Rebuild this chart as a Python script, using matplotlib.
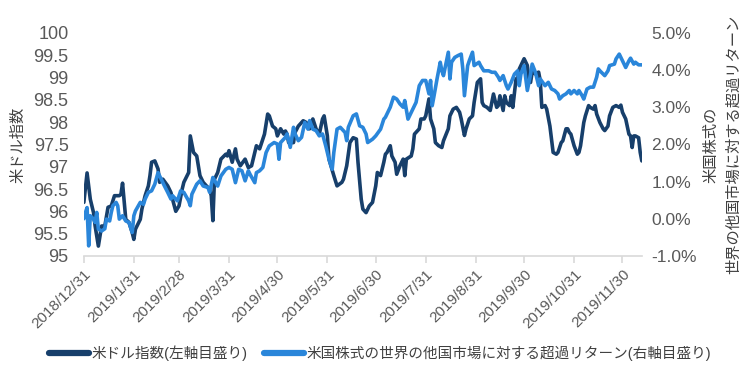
#!/usr/bin/env python3

import numpy as np
import pandas as pd
import matplotlib
matplotlib.use("Agg")
import matplotlib.pyplot as plt
import matplotlib.dates as mdates
from matplotlib.ticker import FixedLocator, FuncFormatter

plt.rcParams['font.family'] = ['Liberation Sans', 'Noto Sans CJK JP', 'DejaVu Sans']

# 米ドル指数 (left axis)
usd_dates = [
    "2018-12-31", "2019-01-02", "2019-01-04", "2019-01-06", "2019-01-07", "2019-01-09", "2019-01-11",
    "2019-01-13", "2019-01-15", "2019-01-17", "2019-01-19", "2019-01-22", "2019-01-23", "2019-01-24",
    "2019-01-26", "2019-01-28", "2019-01-30", "2019-01-31", "2019-02-01", "2019-02-04", "2019-02-05",
    "2019-02-07", "2019-02-09", "2019-02-10", "2019-02-11", "2019-02-13", "2019-02-15", "2019-02-16",
    "2019-02-18", "2019-02-21", "2019-02-23", "2019-02-24", "2019-02-26", "2019-02-28", "2019-03-02",
    "2019-03-03", "2019-03-06", "2019-03-07", "2019-03-09", "2019-03-11", "2019-03-13", "2019-03-15",
    "2019-03-17", "2019-03-19", "2019-03-20", "2019-03-21", "2019-03-22", "2019-03-24", "2019-03-26",
    "2019-03-29", "2019-03-30", "2019-03-31", "2019-04-02", "2019-04-04", "2019-04-05", "2019-04-07",
    "2019-04-10", "2019-04-12", "2019-04-14", "2019-04-17", "2019-04-19", "2019-04-22", "2019-04-24",
    "2019-04-25", "2019-04-27", "2019-04-29", "2019-04-30", "2019-05-02", "2019-05-04", "2019-05-05",
    "2019-05-06", "2019-05-07", "2019-05-10", "2019-05-11", "2019-05-13", "2019-05-16", "2019-05-18",
    "2019-05-20", "2019-05-22", "2019-05-24", "2019-05-26", "2019-05-28", "2019-05-29", "2019-05-31",
    "2019-06-01", "2019-06-04", "2019-06-06", "2019-06-09", "2019-06-10", "2019-06-12", "2019-06-14",
    "2019-06-16", "2019-06-18", "2019-06-19", "2019-06-21", "2019-06-22", "2019-06-24", "2019-06-26",
    "2019-06-28", "2019-06-30", "2019-07-01", "2019-07-03", "2019-07-05", "2019-07-06", "2019-07-07",
    "2019-07-09", "2019-07-10", "2019-07-12", "2019-07-13", "2019-07-15", "2019-07-17", "2019-07-18",
    "2019-07-19", "2019-07-22", "2019-07-23", "2019-07-24", "2019-07-27", "2019-07-28", "2019-07-30",
    "2019-07-31", "2019-08-02", "2019-08-03", "2019-08-05", "2019-08-06", "2019-08-08", "2019-08-10",
    "2019-08-11", "2019-08-14", "2019-08-15", "2019-08-17", "2019-08-19", "2019-08-21", "2019-08-22",
    "2019-08-24", "2019-08-25", "2019-08-27", "2019-08-29", "2019-08-30", "2019-09-01", "2019-09-03",
    "2019-09-04", "2019-09-05", "2019-09-07", "2019-09-09", "2019-09-10", "2019-09-11", "2019-09-13",
    "2019-09-14", "2019-09-15", "2019-09-17", "2019-09-18", "2019-09-19", "2019-09-21", "2019-09-22",
    "2019-09-23", "2019-09-25", "2019-09-26", "2019-09-27", "2019-09-29", "2019-09-30", "2019-10-02",
    "2019-10-03", "2019-10-04", "2019-10-05", "2019-10-07", "2019-10-09", "2019-10-10", "2019-10-11",
    "2019-10-13", "2019-10-14", "2019-10-16", "2019-10-17", "2019-10-18", "2019-10-20", "2019-10-21",
    "2019-10-23", "2019-10-24", "2019-10-26", "2019-10-27", "2019-10-28", "2019-10-29", "2019-10-31",
    "2019-11-02", "2019-11-03", "2019-11-04", "2019-11-06", "2019-11-07", "2019-11-09", "2019-11-10",
    "2019-11-12", "2019-11-13", "2019-11-14", "2019-11-16", "2019-11-18", "2019-11-19", "2019-11-21",
    "2019-11-22", "2019-11-24", "2019-11-26", "2019-11-28", "2019-11-29", "2019-11-30", "2019-12-02",
    "2019-12-04", "2019-12-05", "2019-12-06", "2019-12-07", "2019-12-08", "2019-12-10", "2019-12-11",
    "2019-12-12",
]
usd_values = [
    96.20, 96.86, 96.27, 95.97, 95.67, 95.22, 95.67,
    95.67, 96.09, 96.12, 96.35, 96.35, 96.38, 96.63,
    95.82, 95.75, 95.52, 95.37, 95.60, 95.82, 96.05,
    96.35, 96.57, 96.80, 97.10, 97.13, 96.95, 96.65,
    96.72, 96.57, 96.42, 96.27, 96.00, 96.12, 96.50,
    96.65, 96.87, 97.69, 97.32, 97.24, 96.80, 96.65,
    96.57, 96.50, 96.35, 95.79, 96.72, 96.87, 97.17,
    97.28, 97.24, 97.36, 97.10, 97.40, 97.17, 97.02,
    97.17, 96.98, 97.02, 97.47, 97.40, 97.73, 98.18,
    98.14, 97.91, 97.85, 97.69, 97.85, 97.73, 97.80,
    97.73, 97.54, 97.54, 97.77, 97.91, 98.03, 97.99,
    97.85, 98.07, 97.85, 97.73, 98.07, 98.14, 97.69,
    97.17, 96.80, 96.57, 96.65, 96.72, 97.02, 97.54,
    97.65, 97.62, 97.10, 96.27, 96.05, 95.97, 96.12,
    96.20, 96.57, 96.87, 96.80, 97.10, 97.28, 97.32,
    97.47, 97.24, 97.10, 96.83, 97.02, 97.17, 96.80,
    97.17, 97.24, 97.40, 97.73, 97.85, 98.07, 98.07,
    98.14, 98.52, 98.07, 97.85, 97.54, 97.47, 97.43,
    97.58, 97.85, 98.14, 98.29, 98.33, 98.22, 98.07,
    97.70, 97.85, 98.07, 98.14, 98.44, 98.89, 98.97,
    98.44, 98.37, 98.33, 98.26, 98.44, 98.63, 98.33,
    98.37, 98.59, 98.26, 98.59, 98.44, 98.37, 98.59,
    98.33, 98.97, 98.97, 99.19, 99.34, 99.42, 99.27,
    98.93, 98.89, 99.12, 99.08, 99.12, 98.93, 98.33,
    98.37, 98.29, 97.91, 97.62, 97.32, 97.28, 97.32,
    97.54, 97.58, 97.85, 97.85, 97.77, 97.73, 97.47,
    97.28, 97.32, 97.47, 97.99, 98.14, 98.37, 98.33,
    98.29, 98.37, 98.18, 97.99, 97.85, 97.81, 97.91,
    98.14, 98.33, 98.37, 98.33, 98.38, 98.22, 98.07,
    97.73, 97.69, 97.43, 97.69, 97.69, 97.65, 97.32,
    97.13,
]

# 米国株式の世界の他国市場に対する超過リターン, % (right axis)
excess_dates = [
    "2018-12-31", "2019-01-01", "2019-01-02", "2019-01-03", "2019-01-04", "2019-01-06", "2019-01-07",
    "2019-01-08", "2019-01-09", "2019-01-11", "2019-01-13", "2019-01-14", "2019-01-16", "2019-01-17",
    "2019-01-18", "2019-01-20", "2019-01-21", "2019-01-22", "2019-01-24", "2019-01-26", "2019-01-28",
    "2019-01-29", "2019-01-30", "2019-01-31", "2019-02-01", "2019-02-04", "2019-02-06", "2019-02-07",
    "2019-02-09", "2019-02-11", "2019-02-13", "2019-02-15", "2019-02-17", "2019-02-19", "2019-02-21",
    "2019-02-23", "2019-02-24", "2019-02-27", "2019-03-01", "2019-03-03", "2019-03-06", "2019-03-07",
    "2019-03-08", "2019-03-11", "2019-03-13", "2019-03-15", "2019-03-18", "2019-03-19", "2019-03-21",
    "2019-03-24", "2019-03-26", "2019-03-29", "2019-03-31", "2019-04-02", "2019-04-04", "2019-04-06",
    "2019-04-08", "2019-04-10", "2019-04-12", "2019-04-13", "2019-04-16", "2019-04-17", "2019-04-19",
    "2019-04-21", "2019-04-23", "2019-04-25", "2019-04-28", "2019-04-30", "2019-05-01", "2019-05-02",
    "2019-05-05", "2019-05-06", "2019-05-08", "2019-05-10", "2019-05-11", "2019-05-13", "2019-05-15",
    "2019-05-17", "2019-05-19", "2019-05-20", "2019-05-22", "2019-05-24", "2019-05-26", "2019-05-28",
    "2019-05-30", "2019-06-01", "2019-06-03", "2019-06-04", "2019-06-06", "2019-06-08", "2019-06-11",
    "2019-06-12", "2019-06-13", "2019-06-16", "2019-06-18", "2019-06-20", "2019-06-22", "2019-06-24",
    "2019-06-25", "2019-06-28", "2019-06-30", "2019-07-03", "2019-07-05", "2019-07-06", "2019-07-09",
    "2019-07-11", "2019-07-13", "2019-07-15", "2019-07-17", "2019-07-18", "2019-07-20", "2019-07-22",
    "2019-07-24", "2019-07-25", "2019-07-27", "2019-07-29", "2019-07-31", "2019-08-02", "2019-08-03",
    "2019-08-04", "2019-08-05", "2019-08-07", "2019-08-09", "2019-08-10", "2019-08-11", "2019-08-14",
    "2019-08-15", "2019-08-16", "2019-08-18", "2019-08-20", "2019-08-22", "2019-08-23", "2019-08-24",
    "2019-08-26", "2019-08-27", "2019-08-29", "2019-08-30", "2019-09-02", "2019-09-03", "2019-09-05",
    "2019-09-08", "2019-09-10", "2019-09-12", "2019-09-14", "2019-09-15", "2019-09-17", "2019-09-19",
    "2019-09-20", "2019-09-22", "2019-09-24", "2019-09-26", "2019-09-27", "2019-09-28", "2019-09-30",
    "2019-10-02", "2019-10-04", "2019-10-05", "2019-10-07", "2019-10-09", "2019-10-10", "2019-10-13",
    "2019-10-15", "2019-10-17", "2019-10-19", "2019-10-21", "2019-10-22", "2019-10-24", "2019-10-26",
    "2019-10-28", "2019-10-29", "2019-10-31", "2019-11-02", "2019-11-03", "2019-11-05", "2019-11-06",
    "2019-11-08", "2019-11-10", "2019-11-12", "2019-11-14", "2019-11-15", "2019-11-16", "2019-11-19",
    "2019-11-21", "2019-11-22", "2019-11-25", "2019-11-26", "2019-11-28", "2019-11-30", "2019-12-02",
    "2019-12-04", "2019-12-05", "2019-12-07", "2019-12-08", "2019-12-10", "2019-12-12",
]
excess_values = [
    0.00, 0.17, 0.30, -0.73, 0.08, -0.01, -0.10,
    0.17, -0.28, -0.33, -0.27, -0.01, -0.06, 0.17,
    0.35, 0.44, 0.35, -0.01, 0.08, -0.06, -0.10,
    -0.24, -0.37, 0.08, 0.21, 0.44, 0.39, 0.53,
    0.71, 0.75, 0.93, 1.24, 1.06, 0.88, 0.71,
    0.53, 0.62, 0.48, 0.75, 0.71, 0.48, 0.35,
    0.66, 0.93, 1.02, 0.88, 0.84, 0.71, 1.11,
    0.88, 1.15, 1.33, 1.38, 1.33, 0.97, 1.33,
    1.29, 1.02, 1.29, 1.20, 0.97, 1.24, 1.29,
    1.38, 1.78, 1.96, 2.05, 2.01, 1.60, 2.05,
    2.19, 2.28, 1.92, 2.46, 2.28, 2.10, 2.19,
    2.59, 2.41, 2.64, 2.41, 2.37, 2.23, 2.28,
    1.96, 1.60, 1.33, 1.78, 2.41, 2.46, 2.32,
    2.10, 2.46, 2.77, 2.82, 2.50, 2.46, 2.28,
    2.05, 2.14, 2.23, 2.41, 2.68, 2.73, 3.00,
    3.27, 3.22, 3.09, 3.00, 3.18, 2.68, 2.86,
    3.04, 3.13, 3.58, 3.72, 3.72, 3.36, 3.72,
    3.04, 3.27, 3.76, 4.21, 3.98, 3.85, 4.48,
    3.76, 4.21, 4.34, 4.39, 4.43, 4.03, 3.31,
    4.12, 4.25, 4.48, 4.12, 4.21, 4.12, 3.98,
    3.98, 3.94, 3.94, 3.81, 3.72, 3.85, 3.58,
    3.49, 3.67, 3.89, 3.98, 3.58, 3.89, 4.12,
    3.45, 3.89, 4.16, 3.94, 3.58, 3.76, 3.58,
    3.67, 3.49, 3.45, 3.36, 3.22, 3.31, 3.36,
    3.45, 3.36, 3.45, 3.36, 3.45, 3.31, 3.22,
    3.49, 3.54, 3.54, 3.81, 4.03, 3.98, 3.85,
    3.98, 4.12, 4.16, 4.30, 4.43, 4.25, 4.07,
    4.25, 4.32, 4.16, 4.21, 4.14, 4.14,
]

tick_dates = ["2018-12-31", "2019-01-31", "2019-02-28", "2019-03-31", "2019-04-30", "2019-05-31",
              "2019-06-30", "2019-07-31", "2019-08-31", "2019-09-30", "2019-10-31", "2019-11-30"]

usd_label = "米ドル指数(左軸目盛り)"
excess_label = "米国株式の世界の他国市場に対する超過リターン(右軸目盛り)"

dark = "#173F6B"
light = "#2A86DA"
text_col = "#595959"
axis_col = "#D9D9D9"

fig = plt.figure(figsize=(7.42, 3.78), dpi=100)
ax = fig.add_axes([0.113, 0.323, 0.752, 0.590])
ax2 = ax.twinx()

l1, = ax.plot(pd.to_datetime(usd_dates), usd_values, color=dark, lw=2.6,
              solid_joinstyle='round', solid_capstyle='round', label=usd_label)
l2, = ax2.plot(pd.to_datetime(excess_dates), excess_values, color=light, lw=2.6,
               solid_joinstyle='round', solid_capstyle='round', label=excess_label)

ax.set_xlim(pd.Timestamp("2018-12-31"), pd.Timestamp("2019-12-12"))
ax.set_ylim(95, 100)
ax2.set_ylim(-1, 5)
ax.set_yticks(np.arange(95, 100.01, 0.5))
ax.yaxis.set_major_formatter(FuncFormatter(lambda v, p: ('%g' % v)))
ax2.set_yticks(np.arange(-1, 5.01, 1))
ax2.yaxis.set_major_formatter(FuncFormatter(lambda v, p: '%.1f%%' % v))

ticks = pd.to_datetime(tick_dates)
ax.xaxis.set_major_locator(FixedLocator(mdates.date2num(ticks)))
ax.set_xticklabels(["%d/%d/%d" % (d.year, d.month, d.day) for d in ticks],
                   rotation=45, ha='right', rotation_mode='anchor')

for a in (ax, ax2):
    for s in a.spines.values():
        s.set_visible(False)
ax.spines['bottom'].set_visible(True)
ax.spines['bottom'].set_color(axis_col)
ax.spines['bottom'].set_linewidth(1.2)
ax.tick_params(axis='x', colors=axis_col, labelcolor=text_col, labelsize=11, length=5, width=1.2, pad=3)
ax.tick_params(axis='y', length=0, labelcolor=text_col, labelsize=13, pad=11)
ax2.tick_params(axis='y', length=0, labelcolor=text_col, labelsize=12.5, pad=7)

ax.set_ylabel("米ドル指数", color="#404040", fontsize=11, labelpad=6)
ax2.set_ylabel("米国株式の\n世界の他国市場に対する超過リターン", color="#404040",
               fontsize=11, labelpad=5, linespacing=1.7)

leg = fig.legend([l1, l2], [usd_label, excess_label], loc='center', bbox_to_anchor=(0.512, 0.066),
                 ncol=2, frameon=False, fontsize=10.5, handlelength=2.8, columnspacing=1.1,
                 handletextpad=0.15, labelcolor="#404040")
for h in leg.get_lines():
    h.set_linewidth(4.5)

fig.savefig("out.png", dpi=100)
